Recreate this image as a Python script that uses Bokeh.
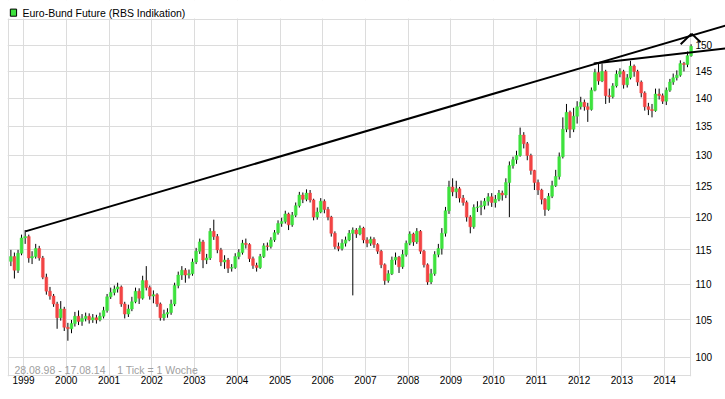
import datetime as dt
import pandas as pd
from bokeh.plotting import figure
from bokeh.models import (ColumnDataSource, FixedTicker, DatetimeTickFormatter, PrintfTickFormatter,
                          Label, Range1d, Arrow, LogAxis, LogScale, Grid)
from bokeh.embed import file_html
from bokeh.resources import INLINE

# ---------------- data (monthly candles) ----------------
first_open = 113.3  # 28.08.98

close = [
    114.0, 112.0, 114.5, 116.8,                                                  # 1998 Sep-Dec
    117.0, 113.8, 114.0, 115.2, 113.8, 111.0, 109.0, 108.3, 107.2, 105.3, 106.5, 104.0,  # 1999
    103.8, 104.5, 105.5, 104.8, 105.2, 105.5, 105.0, 105.3, 105.0, 105.5, 106.3, 108.2,  # 2000
    108.8, 109.3, 109.6, 107.2, 105.8, 106.5, 107.5, 109.0, 108.0, 110.5, 109.5, 108.3,  # 2001
    108.5, 107.2, 105.3, 105.8, 106.0, 107.2, 109.8, 111.3, 112.0, 111.3, 111.5, 113.2,  # 2002
    114.8, 116.2, 113.5, 113.8, 117.8, 117.0, 115.0, 113.2, 113.5, 112.3, 112.4, 114.0,  # 2003
    114.6, 116.0, 115.8, 113.7, 112.7, 112.4, 114.0, 115.6, 115.5, 116.5, 117.6, 119.0,  # 2004
    119.3, 120.5, 118.8, 120.3, 121.8, 123.5, 122.8, 123.8, 122.7, 120.0, 120.8, 122.5,  # 2005
    121.2, 120.0, 117.5, 115.5, 115.2, 116.0, 116.5, 117.5, 118.0, 117.4, 118.3, 116.5,  # 2006
    116.0, 116.6, 115.8, 114.8, 112.8, 110.5, 111.5, 113.5, 113.9, 112.5, 114.3, 116.0,  # 2007
    117.4, 116.2, 117.8, 114.8, 112.8, 110.3, 111.5, 114.3, 115.2, 117.5, 121.0, 124.8,  # 2008
    124.0, 124.5, 123.0, 122.3, 120.0, 118.5, 121.5, 121.6, 121.8, 122.5, 123.2, 122.3,  # 2009
    122.8, 123.8, 123.5, 125.5, 128.3, 129.3, 130.0, 133.5, 132.0, 130.0, 127.5, 125.5,  # 2010
    124.3, 122.8, 121.2, 123.3, 125.0, 126.5, 129.8, 134.5, 137.5, 134.5, 136.8, 138.5,  # 2011
    139.3, 138.5, 138.0, 141.5, 144.8, 143.2, 145.0, 140.5, 140.3, 142.3, 144.5, 145.0,  # 2012
    142.5, 143.8, 146.0, 145.0, 143.0, 141.0, 138.5, 138.0, 137.8, 140.8, 140.5, 139.5,  # 2013
    141.5, 143.0, 143.8, 144.3, 146.5, 146.3, 148.0, 149.8,                              # 2014 Jan-Aug
]
high = [
    115.0, 114.6, 115.0, 117.3,
    118.0, 117.3, 114.8, 115.9, 115.6, 114.1, 111.5, 109.6, 108.6, 107.5, 107.6, 106.8,
    104.6, 105.0, 106.1, 106.3, 105.8, 106.0, 105.9, 105.8, 105.7, 106.0, 106.8, 108.6,
    109.5, 109.8, 110.2, 109.8, 107.5, 107.1, 108.2, 109.5, 109.4, 111.2, 112.6, 109.8,
    109.1, 108.7, 107.4, 106.4, 106.6, 107.8, 110.2, 111.8, 112.6, 112.3, 112.1, 113.7,
    115.3, 116.7, 116.5, 114.4, 118.3, 119.6, 117.4, 115.3, 114.2, 113.8, 112.9, 114.5,
    115.1, 116.5, 116.7, 116.0, 114.0, 113.1, 114.4, 116.0, 116.1, 116.9, 118.0, 119.5,
    119.9, 121.0, 120.7, 120.8, 122.3, 124.0, 123.9, 124.4, 124.3, 122.9, 121.5, 123.0,
    122.8, 121.6, 120.2, 117.8, 116.1, 116.6, 117.0, 118.0, 118.4, 118.3, 118.7, 118.5,
    116.9, 117.0, 116.9, 116.0, 115.0, 113.0, 112.0, 114.0, 114.6, 114.1, 115.0, 116.4,
    117.8, 117.6, 118.3, 118.0, 115.0, 113.0, 112.2, 114.8, 115.9, 118.3, 121.6, 125.8,
    126.2, 125.8, 124.8, 123.5, 122.6, 120.3, 122.0, 122.5, 122.6, 123.0, 123.8, 123.8,
    123.5, 124.3, 124.2, 126.2, 129.0, 129.8, 130.8, 134.8, 134.0, 132.3, 130.3, 127.6,
    126.0, 124.5, 123.0, 123.8, 125.8, 127.6, 130.5, 136.6, 139.0, 137.8, 138.3, 139.5,
    140.3, 139.8, 139.2, 142.0, 145.5, 146.5, 146.5, 145.3, 141.8, 142.8, 145.2, 145.6,
    145.3, 144.5, 147.0, 146.3, 145.3, 143.3, 141.3, 139.2, 139.0, 141.8, 141.8, 140.9,
    142.0, 143.6, 144.6, 145.2, 147.1, 146.8, 148.8, 150.2,
]
low = [
    112.6, 110.8, 111.6, 114.2,
    115.9, 113.1, 112.9, 113.7, 113.4, 110.7, 108.5, 107.8, 106.8, 103.8, 104.9, 103.5,
    102.2, 103.2, 104.1, 104.3, 104.2, 104.8, 104.5, 104.6, 104.5, 104.8, 105.2, 106.0,
    107.9, 108.4, 108.8, 106.8, 105.2, 105.4, 106.2, 107.3, 107.2, 107.8, 109.1, 107.8,
    107.3, 106.8, 104.9, 104.9, 105.3, 105.7, 106.9, 109.4, 110.6, 110.2, 110.8, 111.2,
    112.9, 114.4, 112.3, 112.9, 113.5, 116.5, 114.5, 112.6, 112.2, 111.6, 111.8, 112.2,
    113.6, 114.3, 115.2, 113.2, 112.2, 111.8, 112.2, 113.8, 114.9, 115.2, 116.2, 117.3,
    118.5, 119.0, 118.0, 118.5, 120.0, 121.5, 122.2, 122.5, 122.3, 119.5, 119.6, 120.6,
    120.6, 119.5, 117.0, 115.1, 114.8, 114.9, 115.5, 116.3, 108.4, 116.8, 117.2, 116.0,
    115.4, 115.6, 115.3, 114.4, 112.3, 109.9, 110.2, 111.3, 112.8, 111.6, 112.2, 114.0,
    115.7, 115.6, 115.9, 114.4, 112.4, 109.9, 110.0, 111.2, 113.9, 114.3, 117.0, 120.5,
    123.3, 123.0, 122.3, 121.8, 119.3, 117.5, 118.2, 120.8, 120.3, 121.2, 121.8, 121.6,
    121.5, 122.5, 122.6, 123.0, 120.0, 127.8, 128.6, 129.8, 131.2, 129.2, 126.8, 124.3,
    123.5, 122.0, 120.2, 121.0, 123.0, 124.8, 126.0, 129.5, 134.0, 133.0, 134.0, 135.5,
    138.0, 137.8, 135.8, 137.8, 141.3, 142.5, 143.0, 139.0, 139.2, 140.0, 142.0, 143.9,
    141.8, 142.0, 143.5, 144.0, 142.3, 140.2, 137.8, 137.0, 136.6, 137.6, 139.8, 139.0,
    138.8, 141.2, 142.5, 143.3, 144.0, 145.0, 145.8, 147.8,
]
month_start = "1998-09-01"

y_ticks = [100, 105, 110, 115, 120, 125, 130, 135, 140, 145, 150]
years = list(range(1999, 2015))

# chart box (first / last plotted date, price at bottom and top border)
box_start, box_end = "1998-08-25", "2014-08-10"
box_low, box_high = 97.69, 155.12

# trend lines (date, price)
upper_trend_dates = ["1999-01-17", "2015-06-05"]
upper_trend_prices = [117.8, 153.9]
lower_trend_dates = ["2012-05-05", "2015-06-05"]
lower_trend_prices = [146.5, 149.4]
chevron_dates = ["2014-05-18", "2014-08-19", "2014-11-04"]
chevron_prices = [150.2, 152.3, 150.6]

title_text = "Euro-Bund Future (RBS Indikation)"
title_date, title_price = "1998-12-23", 156.33
square_date, square_price = "1998-10-07", 156.5
info_text = "28.08.98 - 17.08.14\u00a0\u00a0\u00a0 1 Tick = 1 Woche"
info_date, info_price = "1998-10-15", 98.45

# ---------------- build ----------------
GREEN = "#3ee23e"
RED = "#f24444"
GRID = "#dcdcdc"
FONT = "Liberation Sans"
DAY = 864e5


def ms(s):
    return pd.Timestamp(s).value / 1e6


t = pd.date_range(month_start, periods=len(close), freq="MS") + pd.Timedelta(days=14)
opens = [first_open] + close[:-1]
src = ColumnDataSource(dict(
    t=t, o=opens, h=high, l=low, c=close,
    top=[max(a, b) for a, b in zip(opens, close)],
    bottom=[min(a, b) for a, b in zip(opens, close)],
    color=[GREEN if c >= o else RED for o, c in zip(opens, close)],
))

p = figure(width=725, height=395, x_axis_type="datetime", y_axis_type=None,
           toolbar_location=None, output_backend="svg",
           x_range=Range1d(dt.datetime(1998, 8, 17), dt.datetime(2015, 6, 5)),
           y_range=Range1d(97.56, 158.99),
           min_border_left=7, min_border_right=0, min_border_top=0, min_border_bottom=19)
p.y_scale = LogScale()
p.background_fill_color = "white"
p.border_fill_color = "white"
p.outline_line_color = None

# x axis
xt = FixedTicker(ticks=[ms(f"{y}-01-01") for y in years])
p.xaxis.ticker = xt
p.xaxis.formatter = DatetimeTickFormatter(years="%Y", months="%Y", days="%Y", hours="%Y")

# price axis drawn at the right edge of the chart box
yaxis = LogAxis(fixed_location=ms(box_end), ticker=FixedTicker(ticks=y_ticks),
                formatter=PrintfTickFormatter(format="%d"))
p.add_layout(yaxis, "right")

for ax in (p.xaxis[0], yaxis):
    ax.axis_line_color = None
    ax.major_tick_line_color = None
    ax.minor_tick_line_color = None
    ax.major_tick_out = 0
    ax.major_tick_in = 0
    ax.major_label_text_font = FONT
    ax.major_label_text_font_size = "10px"
    ax.major_label_text_color = "black"
p.xaxis.major_label_standoff = -1
yaxis.major_label_standoff = 5

# grid: year lines + left/right border, price lines + top/bottom border
p.xgrid.ticker = FixedTicker(ticks=[ms(box_start)] + [ms(f"{y}-01-01") for y in years] + [ms(box_end)])
p.xgrid.grid_line_color = GRID
ygrid = Grid(dimension=1, ticker=FixedTicker(ticks=[box_low] + y_ticks + [box_high]),
             grid_line_color=GRID)
p.add_layout(ygrid)

# blank areas: right of the chart box and above its top border
p.quad(left=[ms(box_end) + 5 * DAY], right=[ms("2015-07-01")],
       bottom=[97.0], top=[160.0], fill_color="white", line_color=None)
p.quad(left=[ms("1998-08-01")], right=[ms("2015-07-01")],
       bottom=[155.30], top=[160.0], fill_color="white", line_color=None)

# candles
p.segment(x0="t", y0="l", x1="t", y1="h", line_color="black", line_width=1, source=src)
p.vbar(x="t", top="top", bottom="bottom", width=24 * DAY,
       fill_color="color", line_color="color", line_width=0.5, source=src)

# trend lines
for d, pr in ((upper_trend_dates, upper_trend_prices), (lower_trend_dates, lower_trend_prices)):
    p.add_layout(Arrow(end=None, x_start=ms(d[0]), y_start=pr[0], x_end=ms(d[1]), y_end=pr[1],
                       line_color="black", line_width=2))
for i in range(len(chevron_dates) - 1):
    p.add_layout(Arrow(end=None, x_start=ms(chevron_dates[i]), y_start=chevron_prices[i],
                       x_end=ms(chevron_dates[i + 1]), y_end=chevron_prices[i + 1],
                       line_color="black", line_width=2))

# info text inside the box
p.add_layout(Label(x=ms(info_date), y=info_price, text=info_text, text_color="#a0a0a0",
                   text_font=FONT, text_font_size="10.5px", text_baseline="middle"))

# title row: legend square + text
p.add_layout(Label(x=ms(square_date), y=square_price, text="\u00a0", text_font_size="1px",
                   padding=3, background_fill_color=GREEN, border_line_color="black",
                   text_align="center", text_baseline="middle"))
p.add_layout(Label(x=ms(title_date), y=title_price, text=title_text, text_color="black",
                   text_font=FONT, text_font_size="10.5px", text_baseline="middle"))

open("out.html", "w").write(file_html(p, INLINE))
